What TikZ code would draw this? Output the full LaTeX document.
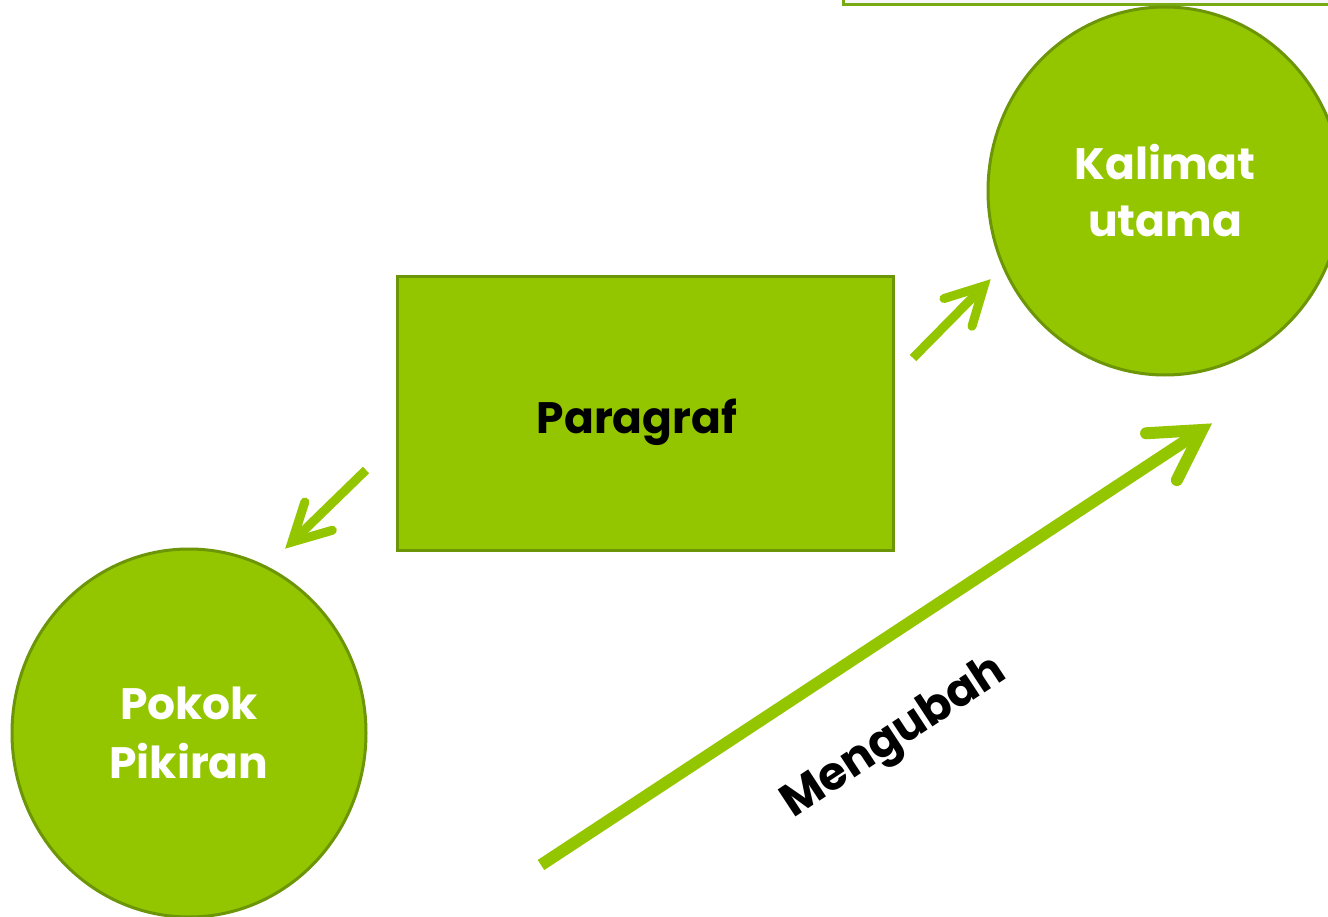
\documentclass[tikz,border=0pt]{standalone}
\usepackage{fontspec}
\setmainfont{Poppins}
\usetikzlibrary{shapes.geometric,calc}
\definecolor{gfill}{RGB}{148,198,0}
\definecolor{gline}{RGB}{108,150,8}
\definecolor{topline}{RGB}{120,170,20}
\tikzset{
  shaft/.style={draw=gfill, line width=#1},
  head/.style={draw=gfill, line width=#1, line cap=round, line join=miter, miter limit=10},
  blob/.style={ellipse, draw=gline, line width=3pt, fill=gfill, minimum width=354pt, minimum height=368pt, inner sep=0pt,
    text=white, align=center, font=\bfseries\fontsize{44}{57}\selectfont},
  box/.style={rectangle, draw=gline, line width=3pt, fill=gfill, minimum width=496pt, minimum height=273pt, inner sep=0pt},
  lbl/.style={text=black, font=\bfseries\fontsize{44}{57}\selectfont, inner sep=0pt}
}
\begin{document}
\begin{tikzpicture}[x=1pt,y=-1pt]
\useasboundingbox (0,0) rectangle (1328,917);
\clip (0,0) rectangle (1328,917);
\fill[white] (0,0) rectangle (1328,917);
% top rectangle
\node[rectangle, draw=topline, line width=3pt, outer sep=0pt, fill=white!94!gray, minimum width=520pt, minimum height=60pt, anchor=south west] (top) at (843,5) {};
% nodes
\node[blob] (kal) at (1165,191) {Kalimat\\utama};
\node[blob] (pok) at (189,733) {Pokok\\[2pt]Pikiran};
\node[box] (para) at (645,413.5) {};
\node[lbl, anchor=base] (paratext) at (637,433) {Paragraf};
% arrow 1
\coordinate (a1s) at (913,358);
\coordinate (a1t) at (984,286);
\draw[shaft=9pt] (a1s) -- ($(a1t)!4pt!(a1s)$);
\draw[head=9pt] ($(a1t)!42pt!28:(a1s)$) -- (a1t) -- ($(a1t)!42pt!-28:(a1s)$);
% arrow 2
\coordinate (a2s) at (366,470);
\coordinate (a2t) at (292,542);
\draw[shaft=9pt] (a2s) -- ($(a2t)!4pt!(a2s)$);
\draw[head=9pt] ($(a2t)!42pt!28:(a2s)$) -- (a2t) -- ($(a2t)!42pt!-28:(a2s)$);
% big arrow
\coordinate (a3s) at (541,865);
\coordinate (a3t) at (1202,430);
\draw[shaft=12pt] (a3s) -- ($(a3t)!5pt!(a3s)$);
\draw[head=12pt] ($(a3t)!56pt!30:(a3s)$) -- (a3t) -- ($(a3t)!56pt!-30:(a3s)$);
\node[lbl, rotate=33.3, font=\bfseries\fontsize{46}{57}\selectfont] (meng) at (895,739) {Mengubah};
\end{tikzpicture}
\end{document}
